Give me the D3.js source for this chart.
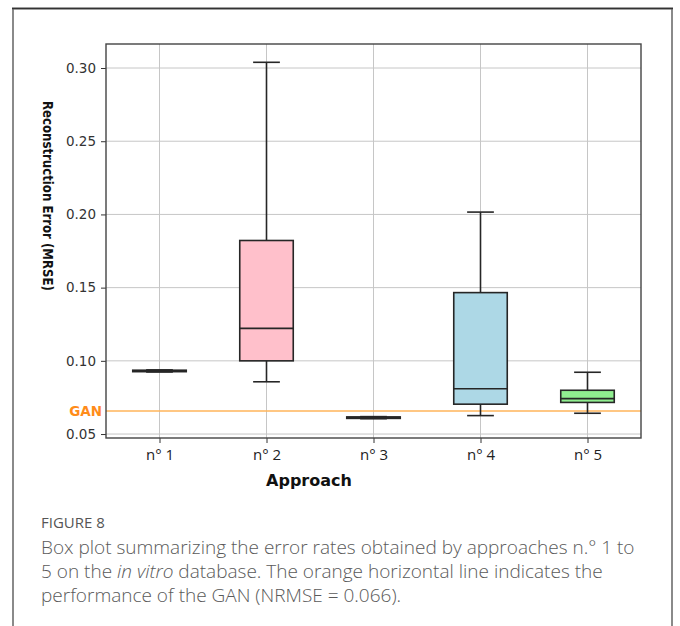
<!DOCTYPE html>
<html>
<head>
<meta charset="utf-8">
<script src="https://cdn.jsdelivr.net/npm/d3@7"></script>
<style>
  body { margin: 0; background: #fff; }
</style>
</head>
<body>
<script>
// Box statistics per approach
const categories = ['n° 1', 'n° 2', 'n° 3', 'n° 4', 'n° 5'];
const whiskerLow = [0.0924, 0.0857, 0.0605, 0.0626, 0.0642];
const q1 = [0.0926, 0.1000, 0.0607, 0.0704, 0.0716];
const median = [0.0931, 0.1222, 0.0612, 0.0809, 0.0742];
const q3 = [0.0936, 0.1822, 0.0617, 0.1466, 0.0799];
const whiskerHigh = [0.0938, 0.3039, 0.0619, 0.2016, 0.0922];
const boxColors = ['#f4a0a0', 'pink', '#9fd3e0', 'lightblue', 'lightgreen'];
const yTicks = [0.05, 0.10, 0.15, 0.20, 0.25, 0.30];
const ganValue = 0.0657;

const captionLines = [
    ['Box plot summarizing the error rates obtained by approaches n.° 1 to'],
    ['5 on the ', '<i>in vitro</i>', ' database. The orange horizontal line indicates the'],
    ['performance of the GAN (NRMSE = 0.066).']
];

const W = 680, H = 626;
const margin = { left: 106, right: 641, top: 44, bottom: 438 };

const svg = d3.select('body')
    .append('svg')
    .attr('width', W)
    .attr('height', H);

// Outer frame (open at the bottom)
svg.append('path')
    .attr('d', `M13,${H} L13,8.5 L672,8.5 L672,${H}`)
    .attr('fill', 'none')
    .attr('stroke', '#8a8a8a')
    .attr('stroke-width', 2);
svg.append('line')
    .attr('x1', 12).attr('x2', 673).attr('y1', 8.5).attr('y2', 8.5)
    .attr('stroke', '#333').attr('stroke-width', 1.5);

const x = d3.scalePoint()
    .domain(categories)
    .range([margin.left, margin.right])
    .padding(0.5);
const step = x.step();

const y = d3.scaleLinear()
    .domain([0.0473, 0.3164])
    .range([margin.bottom, margin.top]);

// Grid
const grid = svg.append('g').attr('stroke', '#c6c6c6').attr('stroke-width', 1);
grid.selectAll('.gy')
    .data(yTicks)
    .enter()
    .append('line')
    .attr('x1', margin.left).attr('x2', margin.right)
    .attr('y1', d => y(d)).attr('y2', d => y(d));
grid.selectAll('.gx')
    .data(categories)
    .enter()
    .append('line')
    .attr('x1', d => x(d)).attr('x2', d => x(d))
    .attr('y1', margin.top).attr('y2', margin.bottom);

// GAN reference line
svg.append('line')
    .attr('x1', margin.left).attr('x2', margin.right)
    .attr('y1', y(ganValue)).attr('y2', y(ganValue))
    .attr('stroke', '#ffb45a')
    .attr('stroke-width', 1.5);
svg.append('text')
    .attr('x', 102)
    .attr('y', y(ganValue) + 4.5)
    .attr('text-anchor', 'end')
    .attr('font-family', 'DejaVu Sans')
    .attr('font-weight', 'bold')
    .attr('font-size', 13.5)
    .attr('fill', '#ff8c1a')
    .text('GAN');

// Boxes
const stats = categories.map((c, i) => ({
    c, lo: whiskerLow[i], q1: q1[i], med: median[i], q3: q3[i], hi: whiskerHigh[i], color: boxColors[i]
}));

const boxes = svg.selectAll('.box')
    .data(stats)
    .enter()
    .append('g')
    .attr('class', 'box')
    .attr('stroke', '#262626')
    .attr('stroke-width', 1.6);

boxes.append('line')
    .attr('x1', d => x(d.c)).attr('x2', d => x(d.c))
    .attr('y1', d => y(d.hi)).attr('y2', d => y(d.q3));
boxes.append('line')
    .attr('x1', d => x(d.c)).attr('x2', d => x(d.c))
    .attr('y1', d => y(d.q1)).attr('y2', d => y(d.lo));
boxes.append('line')
    .attr('x1', d => x(d.c) - step / 8).attr('x2', d => x(d.c) + step / 8)
    .attr('y1', d => y(d.hi)).attr('y2', d => y(d.hi));
boxes.append('line')
    .attr('x1', d => x(d.c) - step / 8).attr('x2', d => x(d.c) + step / 8)
    .attr('y1', d => y(d.lo)).attr('y2', d => y(d.lo));
boxes.append('rect')
    .attr('x', d => x(d.c) - step / 4)
    .attr('width', step / 2)
    .attr('y', d => y(d.q3))
    .attr('height', d => y(d.q1) - y(d.q3))
    .attr('fill', d => d.color);
boxes.append('line')
    .attr('x1', d => x(d.c) - step / 4).attr('x2', d => x(d.c) + step / 4)
    .attr('y1', d => y(d.med)).attr('y2', d => y(d.med));

// Axes
const yAxis = svg.append('g')
    .attr('transform', `translate(${margin.left},0)`)
    .call(d3.axisLeft(y).tickValues(yTicks).tickFormat(d3.format('.2f')).tickSize(5).tickPadding(5));
yAxis.select('.domain').remove();
yAxis.selectAll('text')
    .attr('font-family', 'DejaVu Sans')
    .attr('font-size', 13.5)
    .attr('fill', '#333');
yAxis.selectAll('line').attr('stroke', '#333');

const xAxis = svg.append('g')
    .attr('transform', `translate(0,${margin.bottom})`)
    .call(d3.axisBottom(x).tickSize(5).tickPadding(6));
xAxis.select('.domain').remove();
xAxis.selectAll('text')
    .attr('font-family', 'Open Sans')
    .attr('font-size', 15)
    .attr('fill', '#222');
xAxis.selectAll('line').attr('stroke', '#333');

// Plot frame
svg.append('rect')
    .attr('x', margin.left).attr('y', margin.top)
    .attr('width', margin.right - margin.left)
    .attr('height', margin.bottom - margin.top)
    .attr('fill', 'none')
    .attr('stroke', '#444')
    .attr('stroke-width', 1.4);

// Axis titles
svg.append('text')
    .attr('x', 309)
    .attr('y', 486)
    .attr('text-anchor', 'middle')
    .attr('font-family', 'DejaVu Sans')
    .attr('font-weight', 'bold')
    .attr('font-size', 16)
    .attr('fill', '#111')
    .text('Approach');

svg.append('text')
    .attr('transform', 'translate(43,196) rotate(90)')
    .attr('text-anchor', 'middle')
    .attr('font-family', 'DejaVu Sans')
    .attr('font-weight', 'bold')
    .attr('font-size', 14)
    .attr('textLength', 190)
    .attr('lengthAdjust', 'spacingAndGlyphs')
    .attr('fill', '#111')
    .text('Reconstruction Error (MRSE)');

// Caption
svg.append('text')
    .attr('x', 41)
    .attr('y', 528)
    .attr('font-family', 'Open Sans')
    .attr('font-size', 15)
    .attr('fill', '#555')
    .text('FIGURE 8');

const cap = svg.append('text')
    .attr('font-family', 'Open Sans')
    .attr('font-size', 19)
    .attr('font-weight', 300)
    .attr('fill', '#5a5a5a');
captionLines.forEach((parts, i) => {
    parts.forEach((p, j) => {
        const italic = p.startsWith('<i>');
        const t = cap.append('tspan')
            .attr('font-style', italic ? 'italic' : null)
            .text(italic ? p.replace(/<\/?i>/g, '') : p);
        if (j === 0) t.attr('x', 41).attr('y', 554 + i * 24);
    });
});
</script>
</body>
</html>
